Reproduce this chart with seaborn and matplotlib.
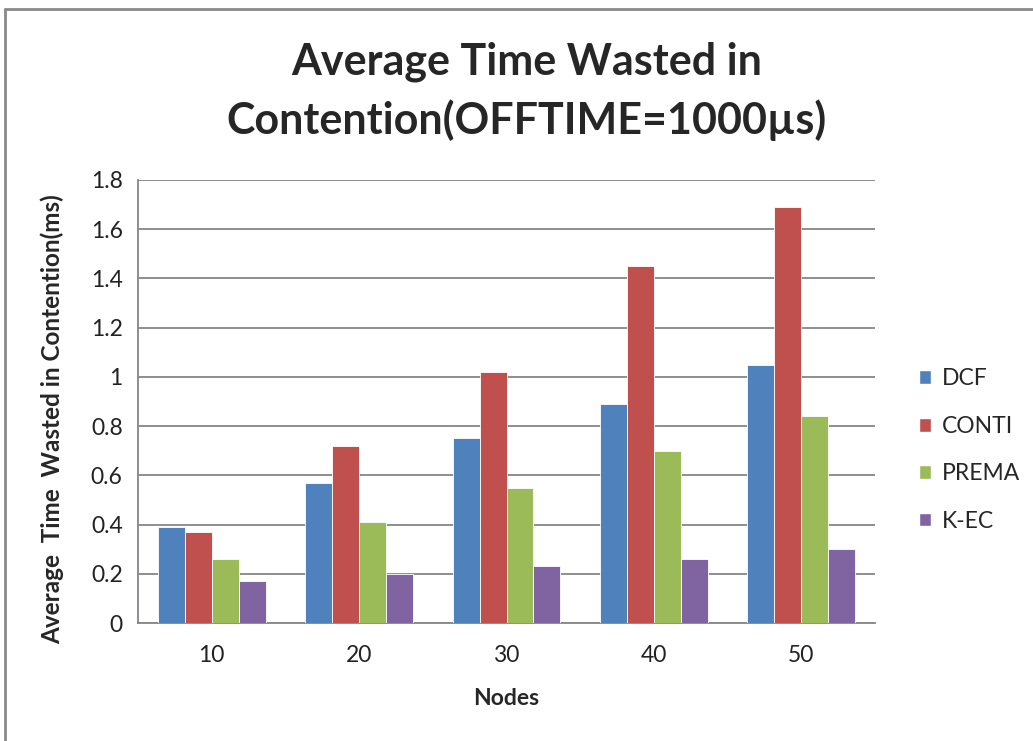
import matplotlib
matplotlib.use("Agg")
import matplotlib.pyplot as plt
import matplotlib.lines as mlines
import matplotlib.patches as mpatches
import seaborn as sns
import pandas as pd

nodes = ["10", "20", "30", "40", "50"]
series = ["DCF", "CONTI", "PREMA", "K-EC"]
dcf = [0.39, 0.57, 0.75, 0.89, 1.05]
conti = [0.37, 0.72, 1.02, 1.45, 1.69]
prema = [0.26, 0.41, 0.55, 0.70, 0.84]
kec = [0.17, 0.20, 0.23, 0.26, 0.30]
colors = ["#4F81BD", "#C0504D", "#9BBB59", "#8064A2"]
y_ticks = [0, 0.2, 0.4, 0.6, 0.8, 1, 1.2, 1.4, 1.6, 1.8]
y_tick_labels = ["0", "0.2", "0.4", "0.6", "0.8", "1", "1.2", "1.4", "1.6", "1.8"]

rows = []
for name, vals in zip(series, [dcf, conti, prema, kec]):
    for n, v in zip(nodes, vals):
        rows.append({"Nodes": n, "Method": name, "Value": v})
df = pd.DataFrame(rows)

sns.set_style("white")
plt.rcParams["font.family"] = ["Lato", "DejaVu Sans"]

W, H = 1033, 741
FS = 16.5
fig = plt.figure(figsize=(W / 100, H / 100), dpi=100)
ax = fig.add_axes([138 / W, 1 - 623 / H, (875 - 138) / W, (623 - 180) / H])

sns.barplot(data=df, x="Nodes", y="Value", hue="Method", order=nodes,
            hue_order=series, palette=colors, saturation=1, width=0.73,
            edgecolor="white", linewidth=0.6, ax=ax, legend=False, zorder=3)

ax.set_ylim(0, 1.8)
ax.set_xlim(-0.5, 4.5)
ax.set_yticks(y_ticks)
ax.set_yticklabels(y_tick_labels, fontsize=FS, color="#222222")
ax.tick_params(axis="x", length=0, labelsize=FS, pad=16, colors="#222222")
ax.tick_params(axis="y", length=8, width=1.2, color="#868686", pad=3)
ax.yaxis.grid(True, color="#868686", linewidth=1.3, zorder=0)
ax.set_axisbelow(True)
for s in ["top", "right"]:
    ax.spines[s].set_visible(False)
for s in ["left", "bottom"]:
    ax.spines[s].set_color("#868686")
    ax.spines[s].set_linewidth(1.3)

ax.set_xlabel("Nodes", fontsize=FS, fontweight="bold", labelpad=16)
ax.set_ylabel("Average  Time  Wasted in Contention(ms)", fontsize=17.5,
              fontweight="bold")
ax.yaxis.set_label_coords(-0.100, 0.46)

fig.text(527 / W, 1 - 91 / H,
         "Average Time Wasted in\nContention(OFFTIME=1000\u00b5s)",
         ha="center", va="center", fontsize=31, fontweight="bold",
         linespacing=1.5)

handles = [mpatches.Patch(facecolor=c, edgecolor="white", label=s)
           for s, c in zip(series, colors)]
fig.legend(handles=handles, loc="center left",
           bbox_to_anchor=(898 / W, 1 - 450 / H), frameon=False,
           fontsize=FS, handlelength=0.55, handleheight=0.55,
           handletextpad=0.45, labelspacing=1.15)

# outer chart frame
fig.add_artist(mlines.Line2D([5 / W, 5 / W], [0, 1 - 9 / H],
                             transform=fig.transFigure, color="#8a8a8a",
                             linewidth=2))
fig.add_artist(mlines.Line2D([5 / W, 1], [1 - 9 / H, 1 - 9 / H],
                             transform=fig.transFigure, color="#8a8a8a",
                             linewidth=2))

fig.savefig("out.png", dpi=100, facecolor="white")
